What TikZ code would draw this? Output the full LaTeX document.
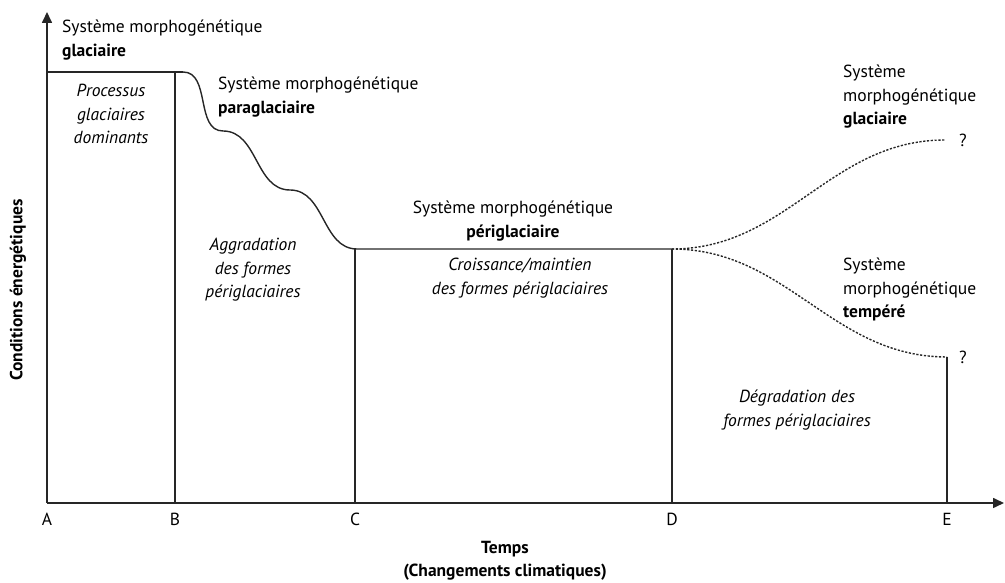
\documentclass[tikz,border=0pt]{standalone}
\usepackage{fontspec}
\setmainfont{PT Sans}
\usetikzlibrary{arrows.meta,positioning}

\begin{document}
\begin{tikzpicture}[x=1pt,y=1pt,
  every node/.style={font=\fontsize{17.5}{23.5}\selectfont, inner sep=0pt},
  ax/.style={line width=1.6pt, black!85, -{Triangle[length=11pt,width=10pt]}},
  bord/.style={line width=1.4pt, black!85},
  futur/.style={line width=1.4pt, black!85, dash pattern=on 2.2pt off 1.6pt},
  sys/.style={align=left, anchor=north west},
  syc/.style={align=center, anchor=north},
  proc/.style={align=center, anchor=north, font=\fontsize{17.5}{23.5}\selectfont\itshape},
  tick/.style={anchor=center}
]
\useasboundingbox (0,0) rectangle (1005,583);

% repere
\coordinate (A) at (47,80);
\coordinate (B) at (175,80);
\coordinate (C) at (355,80);
\coordinate (D) at (672,80);
\coordinate (E) at (947,80);
\coordinate (ytop) at (47,571);
\coordinate (xend) at (1004,80);
\draw[ax] (A) -- (ytop);
\draw[ax] (A) -- (xend);

% paliers
\coordinate (gB) at (175,511);
\coordinate (g1) at (183,511);
\coordinate (s1) at (223,452);
\coordinate (s2) at (290,393);
\coordinate (pC) at (357,334);
\coordinate (pD) at (672,334);
\coordinate (fG) at (945,443);
\coordinate (fT) at (947,226);
\draw[bord] (47,511) -- (g1);
\draw[bord] (gB) -- (B);
\draw[bord] (g1) to[out=0,in=180] (s1) to[out=0,in=180] (s2)
  to[out=0,in=180] (pC) -- (pD);
\draw[bord] (355,334) -- (C);
\draw[bord] (pD) -- (D);
\draw[futur] (pD) to[out=0,in=180] (fG);
\draw[futur] (pD) to[out=0,in=180] (fT);
\draw[bord] (fT) -- (E);

% textes
\node[sys] (t1) at (62,563) {Système morphogénétique\\\textbf{glaciaire}};
\node[proc] (p1) at (111,499) {Processus\\glaciaires\\dominants};
\node[sys] (t2) at (218,506) {Système morphogénétique\\\textbf{paraglaciaire}};
\node[proc] (p2) at (253,345) {Aggradation\\des formes\\périglaciaires};
\node[syc] (t3) at (513,382) {Système morphogénétique\\\textbf{périglaciaire}};
\node[proc] (p3) at (520,325) {Croissance/maintien\\des formes périglaciaires};
\node[sys] (t4) at (843,518) {Système\\morphogénétique\\\textbf{glaciaire}};
\node[sys] (t5) at (843,325) {Système\\morphogénétique\\\textbf{tempéré}};
\node[proc] (p4) at (797,193) {Dégradation des\\formes périglaciaires};
\node (q1) at (963,443) {?};
\node (q2) at (963,226) {?};

\node[tick] (lA) at (47,64) {A};
\node[tick] (lB) at (175,64) {B};
\node[tick] (lC) at (355,64) {C};
\node[tick] (lD) at (672,64) {D};
\node[tick] (lE) at (947,64) {E};

\node[rotate=90, font=\fontsize{17.5}{23.5}\selectfont\bfseries] (yl) at (18,293) {Conditions énergétiques};
\node[align=center, font=\fontsize{17.5}{23.5}\selectfont\bfseries] (xl) at (505,22) {Temps\\(Changements climatiques)};
\end{tikzpicture}
\end{document}
